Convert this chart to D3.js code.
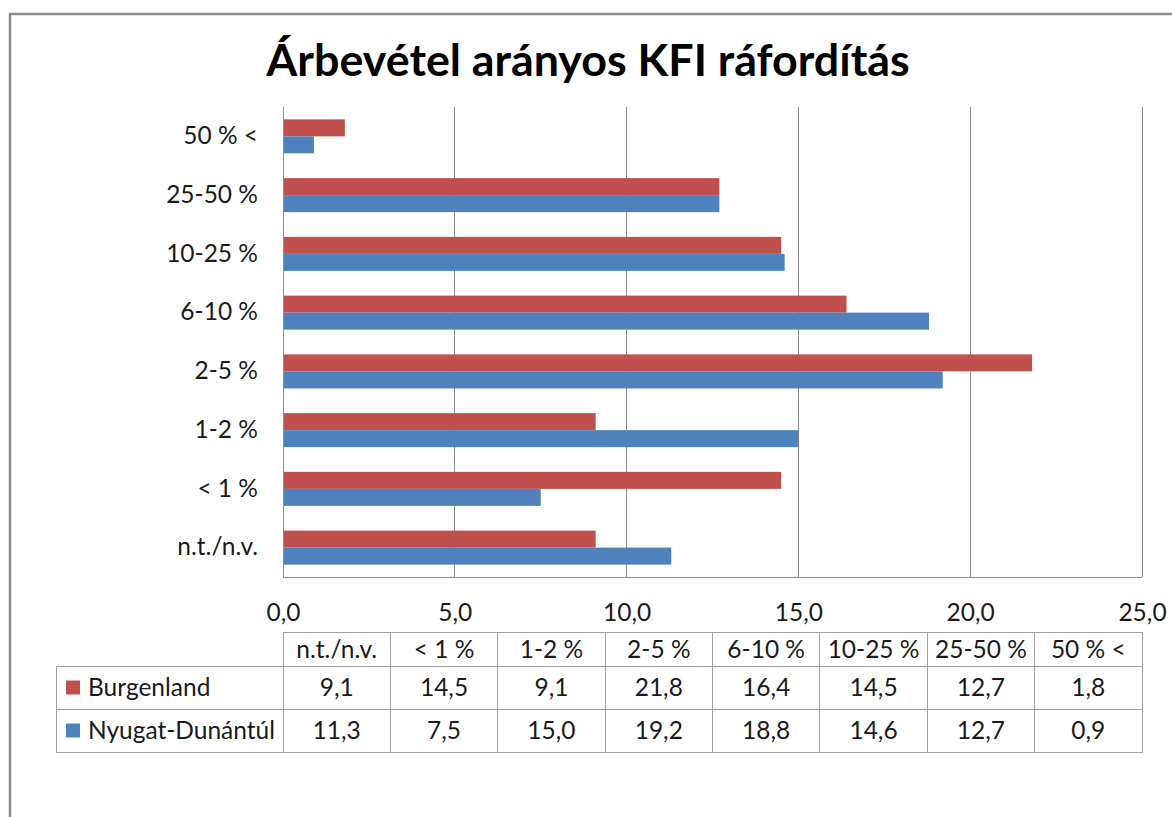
<!DOCTYPE html>
<html><head><meta charset="utf-8">
<script src="https://cdn.jsdelivr.net/npm/d3@7"></script>
<style>
html,body{margin:0;padding:0;background:#fff;}
svg{display:block;font-family:Lato,"Noto Sans",sans-serif;}
</style></head>
<body>
<svg id="c" width="1172" height="817"></svg>
<script>
const categories = ["n.t./n.v.", "< 1 %", "1-2 %", "2-5 %", "6-10 %", "10-25 %", "25-50 %", "50 % <"];
const seriesNames = ["Burgenland", "Nyugat-Dunántúl"];
const burgenland = [9.1, 14.5, 9.1, 21.8, 16.4, 14.5, 12.7, 1.8];
const nyugat = [11.3, 7.5, 15.0, 19.2, 18.8, 14.6, 12.7, 0.9];
const xTicks = [0, 5, 10, 15, 20, 25];
const title = "Árbevétel arányos KFI ráfordítás";

const colors = ["#C0504D", "#4F81BD"];
const seriesValues = [burgenland, nyugat];

const svg = d3.select("#c");
const L = 283, R = 1142, T = 107, B = 577;
const textColor = "#1a1a1a";
const fs = 24.5;

// outer border
svg.append("rect").attr("x", 10).attr("y", 14).attr("width", 1200).attr("height", 900)
  .attr("fill", "none").attr("stroke", "#8a8a8a").attr("stroke-width", 2.5);

// title
svg.append("text").attr("x", 588).attr("y", 76).attr("text-anchor", "middle")
  .attr("font-size", 44.8).attr("font-weight", 700).attr("fill", "#000").text(title);

const x = d3.scaleLinear().domain([0, 25]).range([L, R]);
const y = d3.scaleBand().domain(categories.slice().reverse()).range([T, B]);
const barH = 17;

// gridlines
svg.append("g").selectAll("line").data(xTicks.slice(1)).join("line")
  .attr("x1", d => x(d)).attr("x2", d => x(d)).attr("y1", T).attr("y2", B)
  .attr("stroke", "#8c8c8c").attr("stroke-width", 1).attr("shape-rendering", "crispEdges");

// bars
seriesValues.forEach((vals, si) => {
  svg.append("g").selectAll("rect").data(categories).join("rect")
    .attr("x", x(0))
    .attr("y", (c) => y(c) + y.bandwidth() / 2 - barH + si * barH)
    .attr("width", (c, i) => x(vals[i]) - x(0))
    .attr("height", barH)
    .attr("fill", colors[si]);
});

// axes lines
svg.append("line").attr("x1", L).attr("x2", L).attr("y1", T).attr("y2", B)
  .attr("stroke", "#8c8c8c").attr("shape-rendering", "crispEdges");
svg.append("line").attr("x1", L).attr("x2", R).attr("y1", B).attr("y2", B)
  .attr("stroke", "#8c8c8c").attr("shape-rendering", "crispEdges");

// category labels
const yAxis = d3.axisLeft(y).tickSize(0).tickPadding(25);
const ya = svg.append("g").attr("transform", `translate(${L},0)`).call(yAxis);
ya.select(".domain").remove();
ya.selectAll("text").attr("font-size", fs).attr("font-family", "Lato").attr("fill", textColor);

// x tick labels
const fmt = d => d.toFixed(1).replace(".", ",");
const xAxis = d3.axisBottom(x).tickValues(xTicks).tickSize(0).tickPadding(0).tickFormat(fmt);
const xa = svg.append("g").attr("transform", `translate(0,${B})`).call(xAxis);
xa.select(".domain").remove();
xa.selectAll("text").attr("dy", null).attr("y", 44).attr("font-size", fs).attr("font-family", "Lato").attr("fill", textColor);

// data table
const tLeft = 56, hTop = 632, hBot = 666, rows = [666, 709, 752];
const colW = (R - L) / categories.length;
const cx = i => L + colW * i;
const tg = svg.append("g");
const lineC = "#a0a0a0";
tg.append("rect").attr("x", L).attr("y", hTop).attr("width", R - L).attr("height", hBot - hTop)
  .attr("fill", "none").attr("stroke", lineC).attr("shape-rendering", "crispEdges");
tg.append("rect").attr("x", tLeft).attr("y", rows[0]).attr("width", R - tLeft).attr("height", rows[2] - rows[0])
  .attr("fill", "none").attr("stroke", lineC).attr("shape-rendering", "crispEdges");
tg.append("line").attr("x1", tLeft).attr("x2", R).attr("y1", rows[1]).attr("y2", rows[1])
  .attr("stroke", lineC).attr("shape-rendering", "crispEdges");
tg.selectAll("line.col").data(d3.range(categories.length)).join("line").attr("class", "col")
  .attr("x1", i => cx(i)).attr("x2", i => cx(i)).attr("y1", hTop).attr("y2", rows[2])
  .attr("stroke", lineC).attr("shape-rendering", "crispEdges");

tg.selectAll("text.h").data(categories).join("text").attr("class", "h")
  .attr("x", (d, i) => cx(i) + colW / 2).attr("y", (hTop + hBot) / 2).attr("dy", "0.35em")
  .attr("text-anchor", "middle").attr("font-size", fs).attr("fill", textColor).text(d => d);

seriesValues.forEach((vals, si) => {
  const yc = (rows[si] + rows[si + 1]) / 2;
  tg.append("rect").attr("x", 66).attr("y", yc - 7).attr("width", 14).attr("height", 14).attr("fill", colors[si]);
  tg.append("text").attr("x", 88).attr("y", yc).attr("dy", "0.35em").attr("font-size", fs)
    .attr("fill", textColor).text(seriesNames[si]);
  tg.selectAll("text.v" + si).data(vals).join("text").attr("class", "v" + si)
    .attr("x", (d, i) => cx(i) + colW / 2).attr("y", yc).attr("dy", "0.35em")
    .attr("text-anchor", "middle").attr("font-size", fs).attr("fill", textColor).text(fmt);
});
</script>
</body></html>
